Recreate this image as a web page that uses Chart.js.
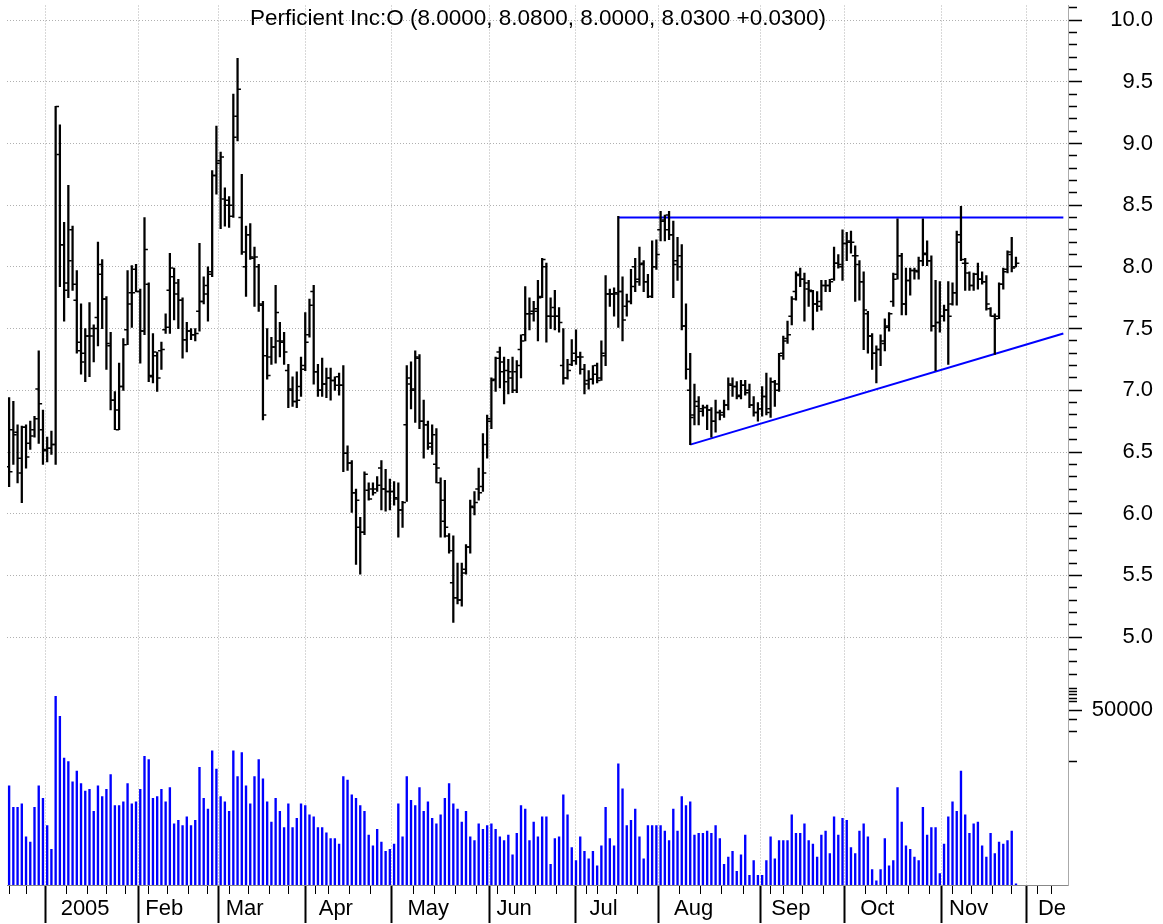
<!DOCTYPE html>
<html>
<head>
<meta charset="utf-8">
<title>Perficient Inc:O</title>
<script src="https://cdn.jsdelivr.net/npm/chart.js@4.4.1/dist/chart.umd.min.js"></script>
<style>
  html, body { margin: 0; padding: 0; background: #fff; }
  #wrap { position: relative; width: 1163px; height: 924px; }
  #title {
    position: absolute; left: 0; top: 5px; width: 1076px;
    text-align: center; color: #000;
    font: 22.5px "Liberation Sans", Arial, sans-serif;
  }
</style>
</head>
<body>
<div id="wrap">
  <canvas id="chart"></canvas>
  <div id="title">Perficient Inc:O (8.0000, 8.0800, 8.0000, 8.0300 +0.0300)</div>
</div>
<script>
// trading-day index: 0 = 3 Jan 2005, first bar is 16 Dec 2004 (index -11)
const firstDay = -11

const opens = [
  6.38, 6.68, 6.66, 6.33, 6.70, 6.57, 6.68, 7.01, 6.68, 6.51,
  6.53, 6.56, 8.91, 8.18, 7.87, 8.30, 7.73, 7.32, 7.30, 7.44,
  7.50, 7.59, 8.02, 7.74, 7.36, 6.92, 6.68, 7.03, 7.49, 7.79,
  7.98, 7.80, 7.48, 7.86, 7.11, 7.28, 7.32, 7.49, 7.81, 7.92,
  7.78, 7.73, 7.41, 7.48, 7.45, 7.64, 7.72, 7.85, 7.94, 8.74,
  8.86, 8.55, 8.50, 8.41, 9.22, 8.40, 8.00, 8.26, 8.07, 8.00,
  7.69, 7.28, 7.27, 7.35, 7.40, 7.39, 7.16, 7.00, 6.91, 7.03,
  7.20, 7.45, 7.80, 7.15, 7.00, 7.05, 7.10, 7.08, 7.11, 7.04,
  6.49, 6.41, 6.17, 5.89, 5.85, 6.19, 6.20, 6.20, 6.37, 6.20,
  6.18, 6.18, 6.12, 6.03, 6.72, 7.05, 7.00, 7.26, 6.75, 6.72,
  6.57, 6.40, 6.25, 5.94, 5.82, 5.44, 5.32, 5.30, 5.55, 5.73,
  6.05, 6.20, 6.22, 6.56, 6.75, 7.09, 7.31, 7.23, 7.16, 7.10,
  7.15, 7.33, 7.45, 7.62, 7.64, 7.64, 7.76, 8.00, 7.60, 7.67,
  7.60, 7.20, 7.10, 7.21, 7.30, 7.27, 7.17, 7.08, 7.09, 7.20,
  7.10, 7.28, 7.78, 7.78, 7.78, 7.80, 7.68, 7.72, 8.00, 7.90,
  8.03, 7.88, 7.76, 8.00, 8.30, 8.38, 8.42, 8.26, 8.05, 8.00,
  7.52, 7.00, 6.80, 6.87, 6.85, 6.86, 6.84, 6.75, 6.82, 6.82,
  6.88, 7.04, 7.03, 6.96, 7.04, 7.00, 6.88, 6.82, 6.85, 6.95,
  6.85, 7.07, 7.00, 7.30, 7.42, 7.60, 7.80, 7.94, 7.90, 7.82,
  7.80, 7.70, 7.72, 7.85, 7.85, 7.90, 8.03, 8.00, 8.19, 8.21,
  8.09, 8.02, 7.88, 7.62, 7.44, 7.30, 7.33, 7.38, 7.52, 7.72,
  7.94, 8.09, 7.70, 7.89, 7.97, 7.96, 8.05, 8.10, 8.05, 7.52,
  7.55, 7.60, 7.65, 7.70, 7.79, 8.20, 8.03, 7.95, 7.85, 7.94,
  7.90, 7.88, 7.66, 7.60, 7.60, 7.86, 7.98, 8.10, 8.00
]
const highs = [
  6.94, 6.91, 6.72, 6.71, 6.72, 6.75, 6.79, 7.32, 6.84, 6.62,
  6.67, 9.30, 9.15, 8.36, 8.66, 8.33, 7.97, 7.70, 7.50, 7.71,
  7.53, 8.20, 8.06, 7.76, 7.47, 6.99, 7.22, 7.42, 7.97, 8.01,
  8.02, 7.82, 8.40, 7.87, 7.46, 7.31, 7.39, 7.62, 8.11, 7.99,
  7.90, 7.75, 7.55, 7.50, 7.50, 8.19, 7.92, 8.00, 8.78, 9.14,
  8.93, 8.64, 8.57, 9.40, 9.69, 8.75, 8.33, 8.35, 8.16, 8.02,
  7.72, 7.50, 7.43, 7.85, 7.55, 7.47, 7.21, 7.11, 7.15, 7.27,
  7.63, 7.74, 7.85, 7.21, 7.26, 7.18, 7.18, 7.11, 7.14, 7.20,
  6.55, 6.43, 6.20, 5.97, 6.34, 6.25, 6.25, 6.30, 6.43, 6.36,
  6.28, 6.26, 6.25, 6.10, 7.20, 7.23, 7.32, 7.29, 6.92, 6.75,
  6.72, 6.69, 6.29, 6.27, 5.84, 5.82, 5.60, 5.60, 5.75, 6.11,
  6.18, 6.37, 6.65, 6.80, 7.10, 7.27, 7.35, 7.27, 7.25, 7.27,
  7.24, 7.45, 7.84, 7.75, 7.72, 7.89, 8.07, 8.03, 7.75, 7.81,
  7.67, 7.50, 7.25, 7.41, 7.49, 7.31, 7.21, 7.16, 7.20, 7.22,
  7.40, 7.93, 7.82, 7.83, 8.41, 7.92, 7.78, 7.98, 8.07, 8.16,
  8.05, 7.94, 8.21, 8.22, 8.45, 8.42, 8.45, 8.37, 8.24, 8.18,
  7.70, 7.30, 7.05, 6.95, 6.88, 6.88, 6.86, 6.92, 6.84, 6.92,
  7.10, 7.10, 7.07, 7.08, 7.08, 7.05, 6.95, 6.90, 7.03, 7.14,
  7.10, 7.08, 7.30, 7.44, 7.56, 7.76, 7.96, 7.99, 7.95, 7.89,
  7.81, 7.80, 7.89, 7.89, 7.90, 8.16, 8.10, 8.30, 8.28, 8.29,
  8.17, 8.05, 7.96, 7.64, 7.46, 7.36, 7.45, 7.58, 7.63, 7.95,
  8.39, 8.11, 7.99, 7.99, 7.99, 8.08, 8.39, 8.21, 8.09, 7.89,
  7.88, 7.69, 7.88, 7.87, 8.29, 8.49, 8.07, 7.96, 7.95, 8.03,
  7.96, 7.93, 7.67, 7.62, 7.87, 7.99, 8.13, 8.24, 8.08
]
const lows = [
  6.22, 6.40, 6.25, 6.09, 6.37, 6.52, 6.62, 6.57, 6.40, 6.42,
  6.48, 6.40, 7.84, 7.56, 7.75, 7.81, 7.30, 7.13, 7.07, 7.11,
  7.23, 7.36, 7.50, 7.17, 6.84, 6.68, 6.68, 7.00, 7.37, 7.51,
  7.80, 7.22, 7.45, 7.07, 7.06, 6.99, 7.17, 7.46, 7.46, 7.57,
  7.50, 7.26, 7.31, 7.41, 7.40, 7.48, 7.70, 7.56, 7.92, 8.59,
  8.31, 8.33, 8.32, 8.40, 9.02, 8.10, 7.76, 8.06, 7.68, 7.64,
  6.76, 7.09, 7.21, 7.22, 7.27, 7.21, 6.86, 6.87, 6.86, 6.95,
  7.16, 7.43, 7.05, 6.95, 6.95, 6.94, 6.92, 7.00, 6.96, 6.34,
  6.35, 6.01, 5.59, 5.51, 5.83, 6.11, 6.15, 6.18, 6.03, 6.02,
  6.03, 6.07, 5.81, 5.89, 6.10, 6.85, 6.74, 6.69, 6.45, 6.52,
  6.48, 6.25, 5.81, 5.81, 5.68, 5.12, 5.27, 5.25, 5.51, 5.68,
  5.99, 6.11, 6.18, 6.45, 6.69, 6.99, 7.02, 6.89, 6.97, 6.98,
  6.98, 7.10, 7.40, 7.49, 7.56, 7.40, 7.75, 7.39, 7.50, 7.49,
  7.47, 7.05, 7.09, 7.20, 7.21, 7.13, 6.97, 7.01, 7.05, 7.06,
  7.08, 7.20, 7.68, 7.60, 7.51, 7.40, 7.60, 7.70, 7.80, 7.85,
  7.80, 7.75, 7.75, 7.98, 8.21, 8.21, 8.22, 7.75, 7.89, 7.49,
  7.09, 6.56, 6.72, 6.72, 6.79, 6.68, 6.62, 6.66, 6.76, 6.78,
  6.84, 6.95, 6.93, 6.93, 6.96, 6.86, 6.79, 6.75, 6.79, 6.80,
  6.78, 6.87, 6.99, 7.25, 7.38, 7.53, 7.73, 7.84, 7.56, 7.68,
  7.49, 7.64, 7.65, 7.80, 7.80, 7.89, 7.99, 7.89, 8.05, 8.11,
  7.72, 7.73, 7.33, 7.30, 7.17, 7.06, 7.20, 7.32, 7.48, 7.68,
  7.90, 7.61, 7.61, 7.77, 7.90, 7.90, 8.01, 8.01, 7.48, 7.16,
  7.47, 7.56, 7.21, 7.69, 7.69, 8.05, 7.81, 7.81, 7.81, 7.82,
  7.86, 7.65, 7.60, 7.29, 7.58, 7.82, 7.95, 7.96, 8.00
]
const closes = [
  6.34, 6.64, 6.45, 6.70, 6.46, 6.63, 6.77, 6.89, 6.52, 6.53,
  6.56, 9.30, 8.18, 7.81, 8.05, 7.86, 7.39, 7.23, 7.44, 7.44,
  7.50, 7.94, 7.74, 7.38, 6.92, 6.84, 7.03, 7.37, 7.70, 7.79,
  7.80, 7.48, 8.14, 7.12, 7.31, 7.10, 7.33, 7.51, 7.99, 7.87,
  7.73, 7.41, 7.48, 7.45, 7.46, 7.72, 7.78, 7.96, 8.74, 8.84,
  8.89, 8.54, 8.50, 9.05, 9.44, 8.12, 8.26, 8.08, 8.08, 7.70,
  6.80, 7.12, 7.35, 7.63, 7.40, 7.31, 7.01, 6.91, 6.92, 7.17,
  7.39, 7.69, 7.15, 7.00, 7.05, 7.10, 7.08, 7.04, 7.04, 6.49,
  6.41, 6.17, 6.11, 5.85, 6.32, 6.12, 6.17, 6.23, 6.20, 6.18,
  6.18, 6.13, 6.03, 6.09, 7.10, 7.01, 7.27, 6.75, 6.72, 6.54,
  6.64, 6.37, 6.11, 5.89, 5.70, 5.32, 5.30, 5.52, 5.73, 6.06,
  6.09, 6.17, 6.33, 6.77, 7.08, 7.26, 7.15, 7.07, 7.15, 7.00,
  7.20, 7.40, 7.62, 7.62, 7.66, 7.75, 8.06, 7.60, 7.60, 7.60,
  7.55, 7.10, 7.16, 7.24, 7.27, 7.27, 7.05, 7.09, 7.13, 7.08,
  7.30, 7.78, 7.78, 7.79, 7.80, 7.57, 7.72, 7.84, 7.88, 8.02,
  7.88, 7.76, 8.00, 8.10, 8.37, 8.30, 8.26, 8.02, 8.09, 7.52,
  7.17, 6.78, 6.91, 6.83, 6.86, 6.84, 6.75, 6.82, 6.80, 6.88,
  7.05, 7.03, 6.95, 7.04, 6.98, 6.88, 6.82, 6.85, 6.95, 6.82,
  7.07, 7.05, 7.28, 7.40, 7.45, 7.74, 7.93, 7.90, 7.87, 7.81,
  7.70, 7.68, 7.85, 7.85, 7.88, 8.03, 8.02, 8.19, 8.20, 8.20,
  8.09, 7.88, 7.65, 7.44, 7.30, 7.33, 7.40, 7.51, 7.62, 7.90,
  8.09, 7.70, 7.89, 7.97, 7.97, 8.05, 8.11, 8.05, 7.52, 7.55,
  7.60, 7.65, 7.60, 7.79, 8.26, 8.06, 8.03, 7.85, 7.94, 7.90,
  7.88, 7.70, 7.60, 7.58, 7.86, 7.96, 8.12, 7.99, 8.03
]
const volumes = [
  28400, 22200, 22200, 23200, 13800, 12300, 22200, 28400, 24800, 17000, 10200,
  54000, 48300, 36300, 35300, 29500, 32600, 29000, 26900, 27400, 21100,
  28400, 25300, 27400, 31600, 22700, 22700, 23800, 29000, 23200, 23800,
  27400, 36800, 35900, 24800, 25300, 27400, 23800, 27900, 17500, 18500,
  17000, 19500, 17000, 18500, 33700, 24800, 21700, 38400, 33200, 25300,
  23800, 21100, 38400, 31000, 37900, 28400, 23200, 31000, 35900, 30400,
  23800, 18000, 24800, 21100, 16400, 23200, 16400, 19100, 23200, 22700,
  20100, 19500, 16400, 16400, 14900, 13300, 13300, 11700, 31000, 30000,
  25800, 24800, 22700, 21100, 14300, 11200, 15900, 12300, 9600, 10200,
  11700, 23200, 13800, 31000, 24200, 22700, 27900, 21100, 23800, 19100,
  17500, 20100, 24800, 29000, 23200, 21700, 18000, 21100, 13800, 12700,
  17500, 15900, 17000, 17500, 15900, 13800, 12700, 14300, 8600, 14800,
  22700, 21700, 12700, 18000, 13800, 19500, 19500, 5900, 13300, 13800,
  25800, 20100, 10700, 7000, 13800, 9600, 7500, 9600, 5500, 11200,
  22200, 13300, 11200, 34700, 27500, 17000, 18500, 21700, 13800, 7500,
  17000, 17000, 17000, 17000, 15400, 12700, 21700, 15400, 25300, 22700,
  23800, 14300, 14800, 14800, 15400, 14800, 17000, 13300, 5900, 8000,
  9600, 3900, 8600, 14300, 2800, 7000, 2800, 2800, 7000, 13800,
  7500, 12700, 12700, 12700, 20100, 14800, 14800, 17500, 12700, 11700,
  8000, 14300, 15400, 9000, 19500, 14300, 19100, 18500, 10700, 9000,
  15400, 17500, 13800, 4400, 1200, 4400, 13300, 5500, 7000, 27900,
  18000, 11200, 10200, 8000, 7000, 22200, 14300, 16400, 16400, 3300,
  11700, 19500, 23800, 21100, 32600, 20100, 14800, 17500, 18000, 11200,
  8000, 14800, 9000, 12300, 11700, 12700, 15400, 300
]

// x axis: first trading day of each month, and of each week
const monthTicks = [0, 20, 39, 61, 82, 103, 125, 145, 168, 189, 210, 231]
const monthLabels = ['2005', 'Feb', 'Mar', 'Apr', 'May', 'Jun', 'Jul', 'Aug', 'Sep', 'Oct', 'Nov', 'De']
const weekTicks = [-9, -5, 5, 10, 14, 19, 24, 29, 34, 38, 43, 48, 53, 57, 62, 67, 72, 77,
  87, 92, 97, 102, 106, 111, 116, 121, 126, 130, 135, 140, 150, 155, 160, 165,
  170, 174, 179, 184, 194, 199, 204, 209, 214, 219, 224, 228, 233, 238]

// price axis: minor every 0.1, labelled every 0.5
const priceTickFrom = 4.7
const priceTickTo = 10.1
const volumeTicks = [35300, 44000, 47500, 50000, 52400, 53400, 54400, 55400, 56300]

// the two drawn trend lines
const resistance = [{x: 133, y: 8.40}, {x: 238.2, y: 8.40}]
const support = [{x: 150, y: 6.56}, {x: 238.2, y: 7.46}]

if (opens.length !== highs.length || lows.length !== closes.length || volumes.length !== highs.length) {
    console.error('length mismatch', opens.length, highs.length, lows.length, closes.length, volumes.length)
}

const FONT = '"Liberation Sans", Arial, sans-serif'
Chart.defaults.font.family = FONT
Chart.defaults.color = '#000'

const gridGray = '#b0b0b0'
const gridDash = [1, 2]
const none = 'rgba(0,0,0,0)'
const isMonth = v => monthTicks.includes(v)
const isMajorPrice = v => Math.round(v * 10) % 5 === 0 && v >= 4.99

// keep the axes from pushing the plot area in
const noPadding = s => {
    s.paddingTop = 0
    s.paddingBottom = 0
    s.paddingLeft = 0
    s.paddingRight = 0
}

const hlBars = highs.map((h, k) => ({x: firstDay + k, y: [lows[k], h]}))
const openMarks = opens.map((o, k) => ({x: firstDay + k - 0.4, y: o}))
const closeMarks = closes.map((c, k) => ({x: firstDay + k + 0.4, y: c}))
const volBars = volumes.map((v, k) => ({x: firstDay + k, y: v}))

const ctx = document.getElementById('chart').getContext('2d')
const chart = new Chart(ctx, {
    type: 'bar',
    data: {
        datasets: [
            {
                label: 'range',
                data: hlBars,
                backgroundColor: '#000',
                borderWidth: 0,
                barThickness: 1.6,
                grouped: false,
                yAxisID: 'y'
            },
            {
                type: 'scatter',
                label: 'open',
                data: openMarks,
                pointStyle: 'line',
                pointRadius: 1.7,
                pointBorderWidth: 1.5,
                pointBorderColor: '#000',
                yAxisID: 'y'
            },
            {
                type: 'scatter',
                label: 'close',
                data: closeMarks,
                pointStyle: 'line',
                pointRadius: 1.7,
                pointBorderWidth: 1.5,
                pointBorderColor: '#000',
                yAxisID: 'y'
            },
            {
                type: 'line',
                label: 'resistance',
                data: resistance,
                borderColor: '#0000ff',
                borderWidth: 2,
                pointRadius: 0,
                fill: false,
                yAxisID: 'y'
            },
            {
                type: 'line',
                label: 'support',
                data: support,
                borderColor: '#0000ff',
                borderWidth: 2,
                pointRadius: 0,
                fill: false,
                yAxisID: 'y'
            },
            {
                label: 'volume',
                data: volBars,
                backgroundColor: '#0000ff',
                borderWidth: 0,
                barThickness: 1.7,
                grouped: false,
                yAxisID: 'yv'
            }
        ]
    },
    options: {
        responsive: true,
        maintainAspectRatio: false,
        animation: false,
        events: [],
        layout: {padding: {left: 7, top: 0, right: 10, bottom: 0}},
        plugins: {
            legend: {display: false},
            tooltip: {enabled: false},
            title: {display: false}
        },
        scales: {
            x: {
                type: 'linear',
                min: -11.5,
                max: 239.3,
                offset: false,
                afterBuildTicks: s => {
                    s.ticks = monthTicks.concat(weekTicks).sort((a, b) => a - b).map(v => ({value: v}))
                },
                afterFit: s => {
                    s.height = 39
                    noPadding(s)
                },
                ticks: {
                    autoSkip: false,
                    maxRotation: 0,
                    align: 'start',
                    labelOffset: 5,
                    padding: -27,
                    font: {size: 22},
                    callback: v => {
                        const m = monthTicks.indexOf(v)
                        return m >= 0 ? monthLabels[m] : ''
                    }
                },
                grid: {
                    color: c => (c.tick && isMonth(c.tick.value)) ? gridGray : none,
                    lineWidth: 1,
                    tickColor: '#000',
                    tickLength: 38,
                    tickWidth: c => (c.tick && isMonth(c.tick.value)) ? 2 : 1,
                    tickBorderDash: c => (c.tick && isMonth(c.tick.value)) ? [] : [8, 100]
                },
                border: {color: '#888', dash: gridDash}
            },
            y: {
                type: 'linear',
                position: 'right',
                stack: 'panes',
                stackWeight: 680,
                min: 4.6425,
                max: 10.1176,
                afterBuildTicks: s => {
                    const t = []
                    for (let k = Math.round(priceTickFrom * 10); k <= Math.round(priceTickTo * 10); k++) {
                        t.push({value: k / 10})
                    }
                    s.ticks = t
                },
                afterFit: s => {
                    s.width = 85
                    noPadding(s)
                },
                ticks: {
                    autoSkip: false,
                    crossAlign: 'far',
                    padding: 18,
                    font: {size: 22},
                    callback: v => isMajorPrice(v) ? v.toFixed(1) : ''
                },
                grid: {
                    color: c => (c.tick && isMajorPrice(c.tick.value)) ? gridGray : none,
                    tickColor: '#000',
                    tickLength: 14,
                    tickWidth: 1.5,
                    tickBorderDash: c => (c.tick && isMajorPrice(c.tick.value)) ? [] : [8, 100]
                },
                border: {color: '#aaa', dash: gridDash}
            },
            yv: {
                type: 'linear',
                position: 'right',
                stack: 'panes',
                stackWeight: 205,
                min: 0,
                max: 58300,
                afterBuildTicks: s => { s.ticks = volumeTicks.map(v => ({value: v})) },
                afterFit: s => {
                    s.width = 85
                    noPadding(s)
                },
                ticks: {
                    autoSkip: false,
                    crossAlign: 'far',
                    padding: 8,
                    font: {size: 22},
                    callback: v => v === 50000 ? '50000' : ''
                },
                grid: {
                    drawOnChartArea: false,
                    tickColor: '#000',
                    tickLength: 14,
                    tickWidth: 1.5,
                    tickBorderDash: c => (c.tick && c.tick.value === 50000) ? [] : [8, 100]
                },
                border: {color: '#aaa'}
            }
        }
    }
})
</script>
</body>
</html>
